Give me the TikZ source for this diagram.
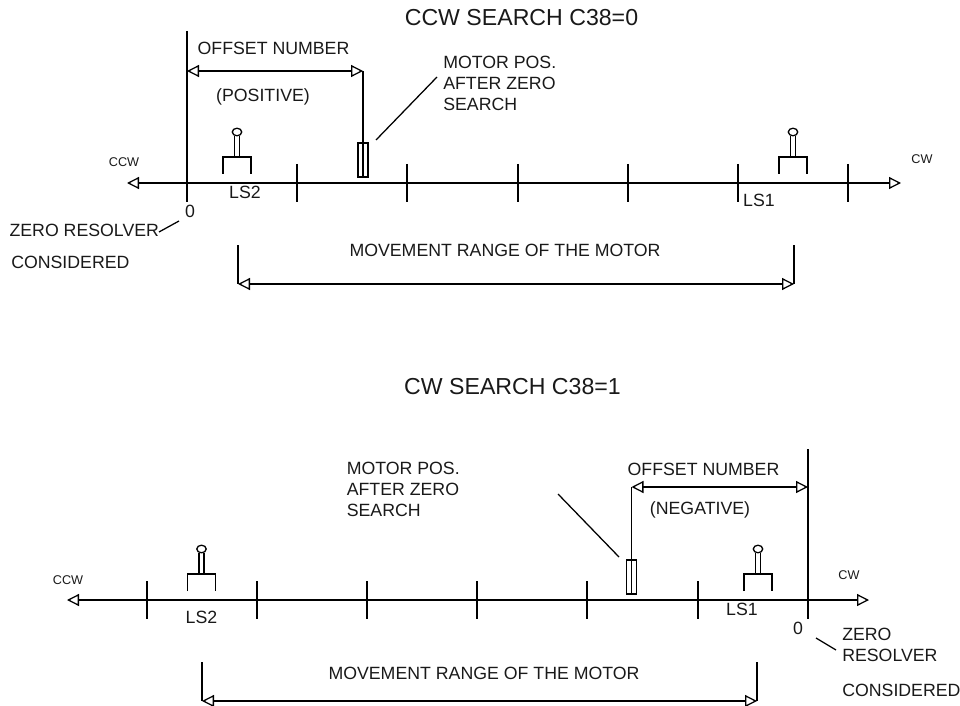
\documentclass[tikz,border=0pt]{standalone}
\usepackage{fontspec}
\setmainfont{Liberation Sans}
\usetikzlibrary{arrows.meta}
\tikzset{
  ln/.style={line width=1.1pt,line cap=butt},
  thin ln/.style={line width=0.95pt},
  dimline/.style={ln,{Triangle[open,length=9pt,width=9pt,line width=0.95pt]}-{Triangle[open,length=9pt,width=9pt,line width=0.95pt]}},
  lbl/.style={inner sep=0pt,font=\fontsize{13.3}{15.75}\selectfont,text=black!90},
  lblL/.style={lbl,anchor=west,align=left},
  small/.style={inner sep=0pt,font=\fontsize{9.5}{11}\selectfont,text=black!90},
  ttl/.style={inner sep=0pt,font=\fontsize{17.35}{20}\selectfont,text=black!90},
  limit/.pic={
    \draw[thin ln] (-14,25) -- (-14,8) -- (14,8) -- (14,25);
    \draw[thin ln] (-2.6,8) -- (-2.6,-13) (2.6,8) -- (2.6,-13);
    \draw[thin ln,fill=white] (0,-17) ellipse [x radius=4.7,y radius=3.8];
  },
  motor/.style={draw,thin ln,minimum width=7.4pt,minimum height=25.5pt,inner sep=0pt,outer sep=0pt}
}
\begin{document}
\begin{tikzpicture}[x=0.75pt,y=-0.75pt]
\useasboundingbox (0,0) rectangle (960,706);
% --- upper diagram
\node[ttl] (t1) at (521.5,18) {CCW SEARCH C38=0};
\coordinate (a1l) at (127,183); \coordinate (a1r) at (901,183);
\draw[dimline] (a1l) -- (a1r);
\coordinate (z1t) at (187,31); \coordinate (z1b) at (187,202);
\draw[ln] (z1t) -- (z1b);
\foreach \x in {297,407,518,628,738,848} \draw[ln] (\x,164) -- (\x,202);
\node[small] (ccw1) at (124,162) {CCW};
\node[small] (cw1) at (922,159) {CW};
\node[lbl] (off1) at (273.5,48.5) {OFFSET NUMBER};
\node[lbl] (pos) at (263,97) {(POSITIVE)};
\node[motor] (m1) at (363,160) {};
\draw[thin ln] (m1.north) -- (m1.south);
\coordinate (o1l) at (187,71); \coordinate (o1r) at (m1.north |- o1l);
\draw[dimline] (o1l) -- (o1r);
\draw[ln] (o1r) -- (m1.north);
\node[lblL] (mp1) at (443,83) {MOTOR POS.\\AFTER ZERO\\SEARCH};
\coordinate (d1a) at (376,140); \coordinate (d1b) at (437,77);
\draw[thin ln] (d1a) -- (d1b);
\pic at (237,149) {limit};
\pic at (793,149) {limit};
\node[lbl] (ls2a) at (245,192) {LS2};
\node[lbl] (ls1a) at (759,200) {LS1};
\node[lbl] (zero1) at (190,211) {0};
\node[lblL] (zr1) at (9.3,230) {ZERO RESOLVER};
\node[lblL] (cn1) at (11,262) {CONSIDERED};
\coordinate (l1) at (159,232); \coordinate (l2) at (179,221);
\draw[thin ln] (l1) -- (l2);
\node[lbl] (mv1) at (505,250) {MOVEMENT RANGE OF THE MOTOR};
\coordinate (r1l) at (238,284); \coordinate (r1r) at (794,284);
\draw[dimline] (r1l) -- (r1r);
\coordinate (r1lt) at (238,245); \coordinate (r1rt) at (794,245);
\draw[thin ln] (r1lt) -- (r1l);
\draw[thin ln] (r1rt) -- (r1r);
% --- lower diagram
\node[ttl] (t2) at (512.5,386.5) {CW SEARCH C38=1};
\coordinate (a2l) at (67,600); \coordinate (a2r) at (869,600);
\draw[dimline] (a2l) -- (a2r);
\coordinate (z2t) at (808,449); \coordinate (z2b) at (808,619);
\draw[ln] (z2t) -- (z2b);
\foreach \x in {147,257,367,477,587,698} \draw[ln] (\x,581) -- (\x,619);
\node[small] (ccw2) at (68,580) {CCW};
\node[small] (cw2) at (849,575.5) {CW};
\node[lbl] (off2) at (703.5,469) {OFFSET NUMBER};
\node[lbl] (neg) at (700,510) {(NEGATIVE)};
\node[motor] (m2) at (631.5,577) {};
\draw[thin ln] (m2.north) -- (m2.south);
\coordinate (o2r) at (808,487); \coordinate (o2l) at (m2.north |- o2r);
\draw[dimline] (o2l) -- (o2r);
\draw[ln] (o2l) -- (m2.north);
\node[lblL] (mp2) at (346.5,489) {MOTOR POS.\\AFTER ZERO\\SEARCH};
\coordinate (d2a) at (558,494); \coordinate (d2b) at (619,557);
\draw[thin ln] (d2a) -- (d2b);
\pic at (201.5,566) {limit};
\pic at (758,566) {limit};
\node[lbl] (ls2b) at (201.5,617) {LS2};
\node[lbl] (ls1b) at (742,609.5) {LS1};
\node[lbl] (zero2) at (798,628) {0};
\node[lblL] (zr2) at (842,644.5) {ZERO\\RESOLVER};
\node[lblL] (cn2) at (842,690) {CONSIDERED};
\coordinate (l3) at (816,638); \coordinate (l4) at (836,650);
\draw[thin ln] (l3) -- (l4);
\node[lbl] (mv2) at (484,673) {MOVEMENT RANGE OF THE MOTOR};
\coordinate (r2l) at (202,701); \coordinate (r2r) at (757,701);
\draw[dimline] (r2l) -- (r2r);
\coordinate (r2lt) at (202,662); \coordinate (r2rt) at (757,662);
\draw[thin ln] (r2lt) -- (r2l);
\draw[thin ln] (r2rt) -- (r2r);
\end{tikzpicture}
\end{document}
